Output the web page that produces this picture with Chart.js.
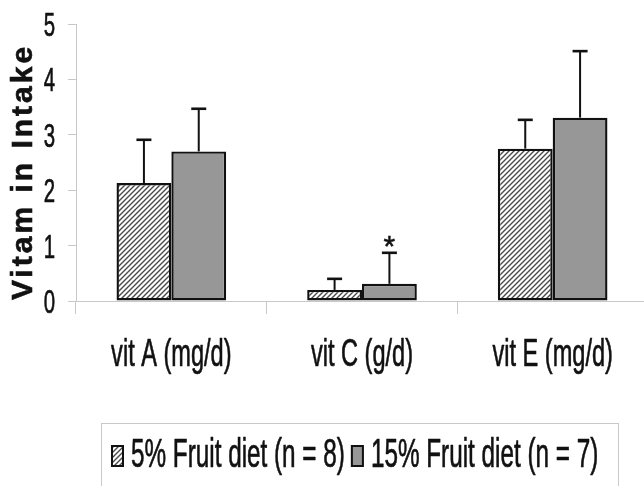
<!DOCTYPE html>
<html>
<head>
<meta charset="utf-8">
<script src="https://cdn.jsdelivr.net/npm/chart.js@4/dist/chart.umd.min.js"></script>
<style>
  html, body { margin: 0; padding: 0; background: #fff; overflow: hidden; }
  #wrap { width: 650px; height: 486px; }
</style>
</head>
<body>
<div id="wrap"><canvas id="c" width="650" height="486"></canvas></div>
<script>
// Vitamin intake by diet group (mean with upper error bar)
const categories = ['vit A (mg/d)', 'vit C (g/d)', 'vit E (mg/d)'];
const seriesNames = ['5% Fruit diet (n = 8)', '15% Fruit diet (n = 7)'];
const fruit5 = [2.13, 0.20, 2.75];
const fruit5Err = [0.78, 0.20, 0.52];
const fruit15 = [2.70, 0.31, 3.31];
const fruit15Err = [0.77, 0.56, 1.20];
const fruit15Marks = ['', '*', ''];
const yTitle = 'Vitam in Intake';
const yMin = 0, yMax = 5, yStep = 1;

const FONT = '"Liberation Sans", Arial, Helvetica, sans-serif';
const INK = '#111';
const AXIS = '#c8c8c8';

// diagonal hatch fill for the 5% series
function hatch() {
  const s = 5;
  const p = document.createElement('canvas');
  p.width = s; p.height = s;
  const g = p.getContext('2d');
  g.fillStyle = '#fff';
  g.fillRect(0, 0, s, s);
  g.strokeStyle = '#4a4a4a';
  g.lineWidth = 1.4;
  g.beginPath();
  g.moveTo(-1, s + 1); g.lineTo(s + 1, -1);
  g.moveTo(-1, 1); g.lineTo(1, -1);
  g.moveTo(s - 1, s + 1); g.lineTo(s + 1, s - 1);
  g.stroke();
  return g.createPattern(p, 'repeat');
}

// text drawn with a horizontal squeeze and a light outline for weight
function squeezed(ctx, text, x, y, size, k, align) {
  ctx.save();
  ctx.translate(x, y);
  ctx.scale(k, 1);
  ctx.font = size + 'px ' + FONT;
  ctx.fillStyle = INK;
  ctx.strokeStyle = INK;
  ctx.lineWidth = 0.7;
  ctx.lineJoin = 'round';
  ctx.textAlign = align || 'left';
  ctx.textBaseline = 'alphabetic';
  ctx.fillText(text, 0, 0);
  ctx.strokeText(text, 0, 0);
  ctx.restore();
}

const errors = [fruit5Err, fruit15Err];
const marks = [null, fruit15Marks];

const decorations = {
  id: 'decorations',
  afterDatasetsDraw(chart) {
    const ctx = chart.ctx;
    const y = chart.scales.y;
    // error bars (upper half only)
    chart.data.datasets.forEach((ds, di) => {
      const meta = chart.getDatasetMeta(di);
      meta.data.forEach((bar, i) => {
        const top = y.getPixelForValue(ds.data[i]);
        const end = y.getPixelForValue(ds.data[i] + errors[di][i]);
        ctx.save();
        ctx.strokeStyle = INK;
        ctx.lineWidth = 2;
        ctx.beginPath();
        ctx.moveTo(bar.x, top);
        ctx.lineTo(bar.x, end);
        ctx.stroke();
        ctx.lineWidth = 2.6;
        ctx.beginPath();
        ctx.moveTo(bar.x - 7.5, end);
        ctx.lineTo(bar.x + 7.5, end);
        ctx.stroke();
        ctx.restore();
        const m = marks[di] && marks[di][i];
        if (m) {
          ctx.save();
          ctx.font = 'normal 30px ' + FONT;
          ctx.fillStyle = INK;
          ctx.strokeStyle = INK;
          ctx.lineWidth = 0.5;
          ctx.textAlign = 'center';
          ctx.textBaseline = 'alphabetic';
          const tm = ctx.measureText(m);
          const by = end - 6 - tm.actualBoundingBoxDescent;
          ctx.fillText(m, bar.x, by);
          ctx.strokeText(m, bar.x, by);
          ctx.restore();
        }
      });
    });
  },
  afterDraw(chart) {
    const ctx = chart.ctx;
    const xs = chart.scales.x, ys = chart.scales.y;
    // y tick labels
    ys.ticks.forEach(t => {
      const py = ys.getPixelForValue(t.value);
      squeezed(ctx, String(t.label), 55, py + 12, 34, 0.6, 'right');
    });
    // category labels
    xs.getLabels().forEach((lab, i) => {
      squeezed(ctx, lab, xs.getPixelForValue(i), 366, 38, 0.62, 'center');
    });
    // y axis title
    ctx.save();
    ctx.translate(32, 172);
    ctx.rotate(-Math.PI / 2);
    ctx.font = 'bold 30px ' + FONT;
    ctx.fillStyle = INK;
    ctx.strokeStyle = INK;
    ctx.lineWidth = 0.6;
    ctx.textAlign = 'center';
    ctx.textBaseline = 'alphabetic';
    if ('letterSpacing' in ctx) ctx.letterSpacing = '3px';
    ctx.fillText(yTitle, 0, 0);
    ctx.strokeText(yTitle, 0, 0);
    ctx.restore();
    // legend
    ctx.save();
    ctx.strokeStyle = AXIS;
    ctx.lineWidth = 1;
    ctx.strokeRect(101.5, 423.5, 517, 80);
    ctx.restore();
    let lx = 111;
    const k = 0.607, size = 40;
    chart.data.datasets.forEach((ds, di) => {
      ctx.save();
      ctx.fillStyle = ds.backgroundColor;
      ctx.fillRect(lx, 445, 13, 22);
      ctx.strokeStyle = INK;
      ctx.lineWidth = 2;
      ctx.strokeRect(lx + 1, 446, 11, 20);
      ctx.restore();
      const tx = lx + 20;
      squeezed(ctx, ds.label, tx, 467, size, k, 'left');
      ctx.save();
      ctx.font = size + 'px ' + FONT;
      const w = ctx.measureText(ds.label).width * k;
      ctx.restore();
      lx = tx + w + 6;
    });
  }
};

new Chart(document.getElementById('c'), {
  type: 'bar',
  data: {
    labels: categories,
    datasets: [
      { label: seriesNames[0], data: fruit5, backgroundColor: hatch(),
        borderColor: INK, borderWidth: 2.4, borderSkipped: false },
      { label: seriesNames[1], data: fruit15, backgroundColor: '#979797',
        borderColor: INK, borderWidth: 2.4, borderSkipped: false }
    ]
  },
  options: {
    responsive: false,
    animation: false,
    events: [],
    layout: { padding: { top: 24, right: 2, left: 0, bottom: 0 } },
    datasets: { bar: { categoryPercentage: 0.575, barPercentage: 1.0 } },
    plugins: { legend: { display: false }, tooltip: { enabled: false }, title: { display: false } },
    scales: {
      x: {
        grid: { drawOnChartArea: false, color: AXIS, tickLength: 13, offset: true },
        border: { color: AXIS, width: 1 },
        ticks: { display: false },
        afterFit(s) { s.height = 185; }
      },
      y: {
        min: yMin, max: yMax,
        grid: { drawOnChartArea: false, color: AXIS, tickLength: 8 },
        border: { color: AXIS, width: 1 },
        ticks: { display: false, stepSize: yStep },
        afterFit(s) { s.width = 76; }
      }
    }
  },
  plugins: [decorations]
});
</script>
</body>
</html>
